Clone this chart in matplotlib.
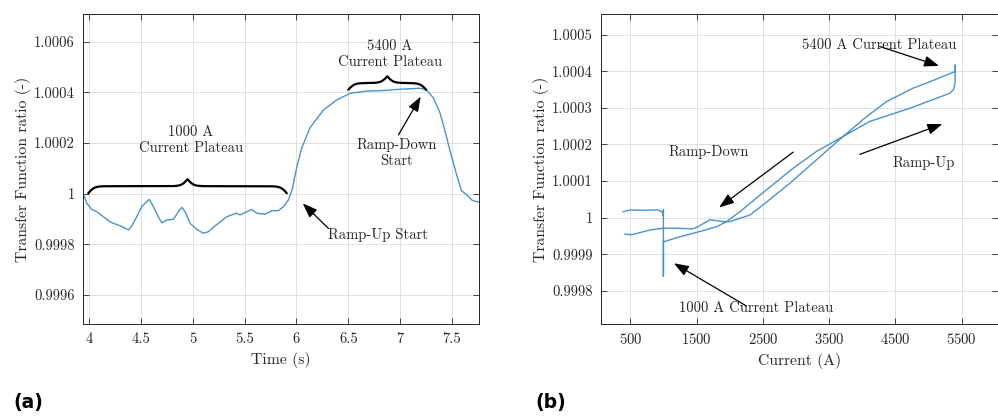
import matplotlib
matplotlib.use('Agg')
import matplotlib.pyplot as plt
import numpy as np

plt.rcParams['font.family'] = ['cmr10', 'DejaVu Serif']
plt.rcParams['axes.formatter.use_mathtext'] = True

# (a) transfer function ratio against time
time_s = [3.942, 3.978, 4.026, 4.074, 4.138, 4.203, 4.234, 4.283, 4.331, 4.379,
          4.412, 4.46, 4.508, 4.54, 4.582, 4.62, 4.668, 4.701, 4.749, 4.813,
          4.861, 4.894, 4.926, 4.974, 5.039, 5.102, 5.15, 5.198, 5.263, 5.328,
          5.391, 5.424, 5.456, 5.521, 5.569, 5.617, 5.697, 5.762, 5.826, 5.874,
          5.922, 5.96, 6.0, 6.05, 6.13, 6.26, 6.389, 6.517, 6.678, 6.838,
          6.999, 7.192, 7.256, 7.321, 7.385, 7.43, 7.48, 7.54, 7.59, 7.643,
          7.69, 7.739, 7.76]
ratio_t = [1.000004, 0.999962, 0.999938, 0.999929, 0.999909, 0.999889, 0.999883,
           0.999876, 0.999867, 0.999857, 0.999872, 0.999909, 0.999949, 0.999962,
           0.999978, 0.999949, 0.999909, 0.999885, 0.999896, 0.999899, 0.999929,
           0.999946, 0.999929, 0.999883, 0.999859, 0.999844, 0.99985, 0.999867,
           0.999889, 0.999909, 0.999919, 0.999923, 0.999916, 0.999929, 0.999938,
           0.999923, 0.999919, 0.999933, 0.999933, 0.999949, 0.999975, 1.00002,
           1.0001, 1.00018, 1.00026, 1.00033, 1.00037, 1.000396, 1.000405,
           1.000407, 1.000412, 1.000416, 1.000409, 1.000377, 1.000317, 1.00025,
           1.00017, 1.00008, 1.000012, 0.999995, 0.999975, 0.999968, 0.999968]

# (b) transfer function ratio against current, whole cycle in order
current_a = [394, 495, 696, 897, 950, 985, 998, 1000, 1000, 1000, 1000,
             1008, 1198, 1550, 1801, 1952, 2153, 2555, 2957, 3309, 3711, 4113,
             4716, 5319, 5379, 5399, 5402, 5404,
             5068, 4766, 4364, 4063, 3711, 3309, 2907, 2505, 2304, 2002, 1902,
             1701, 1500, 1425, 1198, 997, 796, 520, 420]
ratio_i = [1.000016, 1.000021, 1.00002, 1.000021, 1.000019, 1.000014, 1.000004,
           1.000022, 0.99984, 0.99990, 0.999936,
           0.999934, 0.999945, 0.999962, 0.999975, 0.999989, 1.000016, 1.000076,
           1.000135, 1.000181, 1.000222, 1.000263, 1.000299, 1.00034, 1.000351,
           1.000368, 1.000418, 1.0004,
           1.000375, 1.000354, 1.000317, 1.000276, 1.000222, 1.000158, 1.000094,
           1.000035, 1.000007, 0.999989, 0.999989, 0.999994, 0.999973, 0.999969,
           0.999971, 0.999971, 0.999966, 0.999953, 0.999955]

ticks_t = [4, 4.5, 5, 5.5, 6, 6.5, 7, 7.5]
ticklabels_t = ['4', '4.5', '5', '5.5', '6', '6.5', '7', '7.5']
ticks_ya = [0.9996, 0.9998, 1.0, 1.0002, 1.0004, 1.0006]
ticklabels_ya = ['0.9996', '0.9998', '1', '1.0002', '1.0004', '1.0006']
ticks_i = [500, 1500, 2500, 3500, 4500, 5500]
ticks_yb = [0.9998, 0.9999, 1.0, 1.0001, 1.0002, 1.0003, 1.0004, 1.0005]
ticklabels_yb = ['0.9998', '0.9999', '1', '1.0001', '1.0002', '1.0003',
                 '1.0004', '1.0005']

line_color = '#4a93cc'
text_color = '#262626'
fs = 10.5
fs_label = 11.3


def style_axes(ax):
    ax.grid(True, color='#e0e0e0', lw=0.7)
    ax.set_axisbelow(True)
    ax.tick_params(direction='in', top=True, right=True, length=4, width=0.6,
                   colors=text_color, labelsize=fs, pad=6)
    for sp in ax.spines.values():
        sp.set_color(text_color)
        sp.set_linewidth(0.7)


def brace(ax, x0, x1, y0, h_px, curl_px=3.0):
    # curly brace opening downwards, drawn in display space then mapped back
    p0 = ax.transData.transform((x0, y0))
    p1 = ax.transData.transform((x1, y0))
    w = p1[0] - p0[0]
    s = np.linspace(0, w / 2, 300)
    sig = lambda u: 1 / (1 + np.exp(-u / curl_px))
    half = sig(s) + sig(s - w / 2) - 0.5
    half = (half - half[0]) / (half[-1] - half[0])
    xs = np.concatenate([p0[0] + s, p0[0] + w - s[::-1]])
    ys = np.concatenate([half, half[::-1]]) * h_px + p0[1]
    pts = ax.transData.inverted().transform(np.column_stack([xs, ys]))
    ax.plot(pts[:, 0], pts[:, 1], color='black', lw=1.6, solid_capstyle='round')


fig = plt.figure(figsize=(9.98, 4.16), dpi=100)

# left panel
ax1 = fig.add_axes([0.0832, 0.2212, 0.3968, 0.7452])
ax1.plot(time_s, ratio_t, color=line_color, lw=1.0)
ax1.set_xlim(3.942, 7.76)
ax1.set_ylim(0.999486, 1.000709)
ax1.set_xticks(ticks_t)
ax1.set_xticklabels(ticklabels_t)
ax1.set_yticks(ticks_ya)
ax1.set_yticklabels(ticklabels_ya)
ax1.set_xlabel('Time (s)', fontsize=fs_label, color=text_color, labelpad=4)
ax1.set_ylabel('Transfer Function ratio (-)', fontsize=fs_label,
               color=text_color, labelpad=2)
style_axes(ax1)

brace(ax1, 3.993, 5.906, 1.000002, 14.0)
brace(ax1, 6.50, 7.25, 1.000410, 13.5)
ax1.text(4.98, 1.000212, '1000 A\nCurrent Plateau', ha='center', va='center',
         fontsize=fs, color=text_color, linespacing=1.2)
ax1.text(6.90, 1.000549, '5400 A\nCurrent Plateau', ha='center', va='center',
         fontsize=fs, color=text_color, linespacing=1.2)
ax1.text(6.967, 1.00016, 'Ramp-Down\nStart', ha='center', va='center',
         fontsize=fs, color=text_color, linespacing=1.2)
ax1.text(6.79, 0.999837, 'Ramp-Up Start', ha='center', va='center',
         fontsize=fs, color=text_color)
arrow = dict(arrowstyle='-|>,head_length=0.6,head_width=0.22', color='black',
             lw=0.9, mutation_scale=15, shrinkA=0, shrinkB=0)
ax1.annotate('', xy=(7.198, 1.000383), xytext=(6.983, 1.000232),
             arrowprops=arrow)
ax1.annotate('', xy=(6.06, 0.999962), xytext=(6.308, 0.999863),
             arrowprops=arrow)

# right panel
ax2 = fig.add_axes([0.6025, 0.2212, 0.3970, 0.7452])
ax2.plot(current_a, ratio_i, color=line_color, lw=1.0)
ax2.set_xlim(63, 6040)
ax2.set_ylim(0.999709, 1.000557)
ax2.set_xticks(ticks_i)
ax2.set_yticks(ticks_yb)
ax2.set_yticklabels(ticklabels_yb)
ax2.set_xlabel('Current (A)', fontsize=fs_label, color=text_color, labelpad=4)
ax2.set_ylabel('Transfer Function ratio (-)', fontsize=fs_label,
               color=text_color, labelpad=2)
style_axes(ax2)

ax2.text(4259, 1.000471, '5400 A Current Plateau', ha='center', va='center',
         fontsize=fs, color=text_color)
ax2.text(1686, 1.000179, 'Ramp-Down', ha='center', va='center',
         fontsize=fs, color=text_color)
ax2.text(4927, 1.000149, 'Ramp-Up', ha='center', va='center',
         fontsize=fs, color=text_color)
ax2.text(2394, 0.999752, '1000 A Current Plateau', ha='center', va='center',
         fontsize=fs, color=text_color)
ax2.annotate('', xy=(5158, 1.000415), xytext=(4264, 1.000468), arrowprops=arrow)
ax2.annotate('', xy=(1842, 1.000028), xytext=(2957, 1.000179), arrowprops=arrow)
ax2.annotate('', xy=(5208, 1.000256), xytext=(3962, 1.000173), arrowprops=arrow)
ax2.annotate('', xy=(1158, 0.999875), xytext=(2254, 0.999758), arrowprops=arrow)

fig.text(0.013, 0.02, '(a)', fontsize=13.5, fontweight='bold',
         family='DejaVu Sans', color='black')
fig.text(0.536, 0.02, '(b)', fontsize=13.5, fontweight='bold',
         family='DejaVu Sans', color='black')

fig.savefig('out.png', dpi=100)
